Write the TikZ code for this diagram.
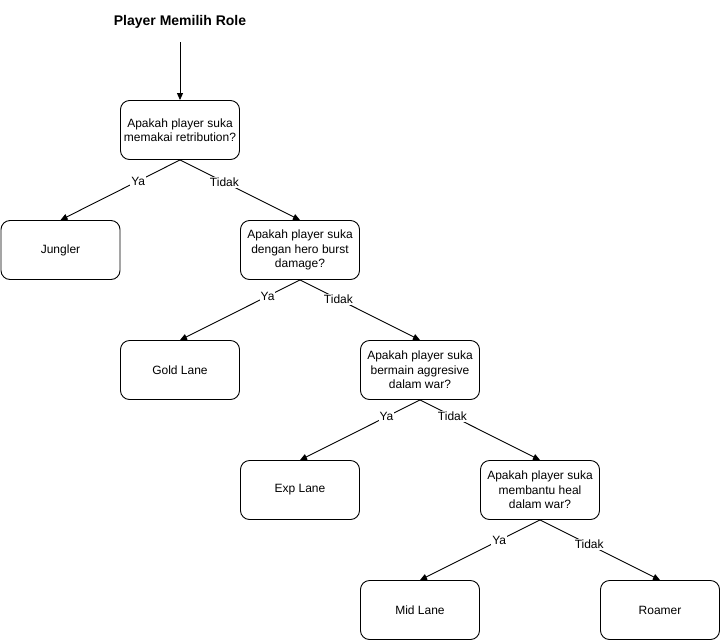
\documentclass[tikz,border=0pt]{standalone}
\usepackage{fontspec}
\setmainfont{Liberation Sans}
\usetikzlibrary{arrows.meta,positioning}

\begin{document}
\begin{tikzpicture}[x=1pt, y=-1pt, box/.style={draw=black, line width=0.9pt, rounded corners=9pt, minimum width=119pt, minimum height=59pt, align=center, inner sep=2pt, font=\fontsize{12}{14.5}\selectfont}, arr/.style={-{Triangle[length=7pt, width=6pt]}, line width=0.9pt}, lbl/.style={pos=0.35, fill=white, inner sep=1pt, font=\fontsize{12}{14}\selectfont}]
\useasboundingbox (0,0) rectangle (721,641);
\node[font=\bfseries\fontsize{14}{16}\selectfont, minimum height=40pt, inner sep=0pt] (title) at (180,22) {Player Memilih Role};
\node[box] (q1) at (180,130) {Apakah player suka\\memakai retribution?}; \node[box] (jungler) at (60.5,250) {Jungler}; \node[box] (q2) at (300,250) {Apakah player suka\\dengan hero burst\\damage?};
\node[box] (gold) at (180,370) {Gold Lane}; \node[box] (q3) at (420,370) {Apakah player suka\\bermain aggresive\\dalam war?}; \node[box] (exp) at (300,490) {Exp Lane}; \node[box] (q4) at (540,490) {Apakah player suka\\membantu heal\\dalam war?};
\node[box] (mid) at (420,610) {Mid Lane}; \node[box] (roamer) at (660,610) {Roamer};
\draw[arr] (title.south) -- (q1.north);
\draw[arr] (q1.south) -- node[lbl] {Ya} (jungler.north); \draw[arr] (q1.south) -- node[lbl, pos=0.37] {Tidak} (q2.north);
\draw[arr] (q2.south) -- node[lbl, pos=0.27] {Ya} (gold.north); \draw[arr] (q2.south) -- node[lbl, pos=0.32] {Tidak} (q3.north);
\draw[arr] (q3.south) -- node[lbl, pos=0.28] {Ya} (exp.north); \draw[arr] (q3.south) -- node[lbl, pos=0.27] {Tidak} (q4.north);
\draw[arr] (q4.south) -- node[lbl, pos=0.34] {Ya} (mid.north); \draw[arr] (q4.south) -- node[lbl, pos=0.41] {Tidak} (roamer.north);
\end{tikzpicture}
\end{document}
